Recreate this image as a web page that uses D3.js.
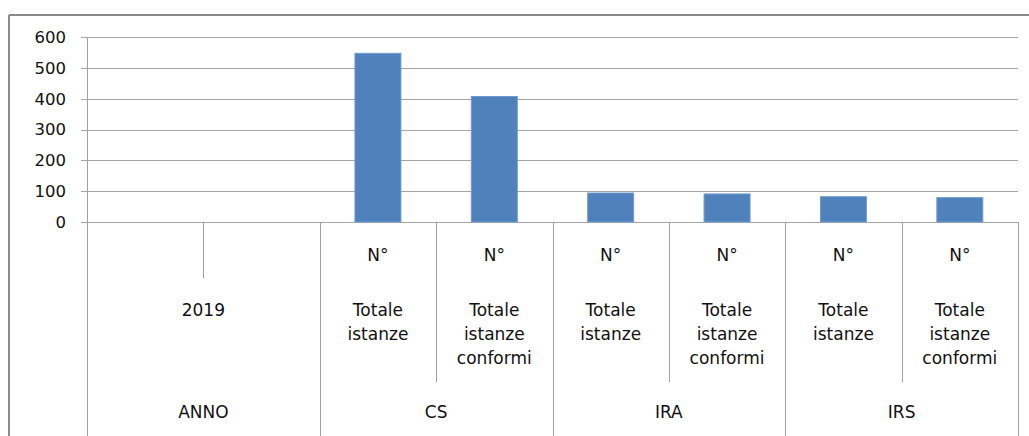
<!DOCTYPE html>
<html>
<head>
<meta charset="utf-8">
<script src="https://cdn.jsdelivr.net/npm/d3@7"></script>
<style>
  body { margin: 0; background: #fff; }
  text { font-family: "DejaVu Sans", Verdana, sans-serif; fill: #111; }
</style>
</head>
<body>
<div id="chart"></div>
<script>
// data
const groups = ["ANNO", "CS", "IRA", "IRS"];
const columns = ["a1", "a2", "cs1", "cs2", "ira1", "ira2", "irs1", "irs2"];
const columnGroup = ["ANNO", "ANNO", "CS", "CS", "IRA", "IRA", "IRS", "IRS"];
const topLabels = ["", "", "N°", "N°", "N°", "N°", "N°", "N°"];
const midLabels = ["2019", "", "Totale istanze", "Totale istanze conformi", "Totale istanze",
                   "Totale istanze conformi", "Totale istanze", "Totale istanze conformi"];
const values = [null, null, 547, 407, 94, 91, 82, 79];
const yTicks = [0, 100, 200, 300, 400, 500, 600];

const W = 1029, H = 436;
const plot = {left: 87, right: 1018, top: 37, bottom: 222};

const svg = d3.select("#chart").append("svg")
    .attr("width", W).attr("height", H);

// outer frame (top and left visible only)
svg.append("line").attr("x1", 9).attr("x2", W).attr("y1", 15).attr("y2", 15)
   .attr("stroke", "#8a8a8a").attr("stroke-width", 2);
svg.append("line").attr("x1", 9).attr("x2", 9).attr("y1", 15).attr("y2", H)
   .attr("stroke", "#8a8a8a").attr("stroke-width", 2);

const y = d3.scaleLinear().domain([0, 600]).range([plot.bottom, plot.top]);
const xCol = d3.scaleBand().domain(columns).range([plot.left, plot.right]).padding(0);
const x = d3.scaleBand().domain(columns).range([plot.left, plot.right])
    .paddingInner(0.605).paddingOuter(0.3025);

// grid
svg.append("g").selectAll("line").data(yTicks).join("line")
   .attr("x1", plot.left - 6).attr("x2", plot.right)
   .attr("y1", d => Math.round(y(d)) + 0.5).attr("y2", d => Math.round(y(d)) + 0.5)
   .attr("stroke", "#a6a6a6").attr("stroke-width", 1);

// y axis
svg.append("line").attr("x1", plot.left + 0.5).attr("x2", plot.left + 0.5)
   .attr("y1", plot.top).attr("y2", H).attr("stroke", "#a0a0a0");
svg.append("g").selectAll("text").data(yTicks).join("text")
   .attr("x", 66).attr("y", d => y(d)).attr("dy", "0.36em")
   .attr("text-anchor", "end").style("font-size", "16.5px")
   .text(d => d);

// bars
svg.append("g").selectAll("rect").data(columns.filter((c, i) => values[i] != null)).join("rect")
   .attr("x", c => x(c))
   .attr("width", x.bandwidth())
   .attr("y", c => y(values[columns.indexOf(c)]))
   .attr("height", c => y(0) - y(values[columns.indexOf(c)]))
   .attr("fill", "#4f81bd")
   .attr("stroke", "#7199cb").attr("stroke-width", 1);

// category axis: inner separators
const level1Bottom = 278, level2Bottom = 382;
columns.forEach((c, i) => {
  if (i === 0) return;
  const xx = Math.round(xCol(c)) + 0.5;
  let y2;
  if (columnGroup[i] !== columnGroup[i - 1]) y2 = H;
  else if (columnGroup[i] === "ANNO") y2 = level1Bottom;
  else y2 = level2Bottom;
  svg.append("line").attr("x1", xx).attr("x2", xx)
     .attr("y1", plot.bottom).attr("y2", y2).attr("stroke", "#a0a0a0");
});
svg.append("line").attr("x1", plot.right + 0.5).attr("x2", plot.right + 0.5)
   .attr("y1", plot.bottom).attr("y2", H).attr("stroke", "#a0a0a0");

const colCenter = c => xCol(c) + xCol.bandwidth() / 2;

// N° row
svg.append("g").selectAll("text").data(columns).join("text")
   .attr("x", colCenter).attr("y", 255).attr("dy", "0.36em")
   .attr("text-anchor", "middle").style("font-size", "17px")
   .text((c, i) => topLabels[i]);

// middle row (wrapped)
const midG = svg.append("g");
columns.forEach((c, i) => {
  if (!midLabels[i]) return;
  let cx = colCenter(c);
  if (midLabels[i] === "2019") cx = xCol(c) + xCol.bandwidth();
  const lines = midLabels[i] === "2019" ? ["2019"] : midLabels[i].split(" ");
  const t = midG.append("text").attr("text-anchor", "middle").style("font-size", "17px");
  lines.forEach((ln, k) => {
    t.append("tspan").attr("x", cx).attr("y", 310 + k * 24).attr("dy", "0.36em").text(ln);
  });
});

// group row
svg.append("g").selectAll("text").data(groups).join("text")
   .attr("x", g => {
     const idx = columnGroup.map((d, i) => d === g ? i : -1).filter(i => i >= 0);
     return (xCol(columns[idx[0]]) + xCol(columns[idx[idx.length - 1]]) + xCol.bandwidth()) / 2;
   })
   .attr("y", 412).attr("dy", "0.36em")
   .attr("text-anchor", "middle").style("font-size", "17px")
   .text(g => g);
</script>
</body>
</html>
